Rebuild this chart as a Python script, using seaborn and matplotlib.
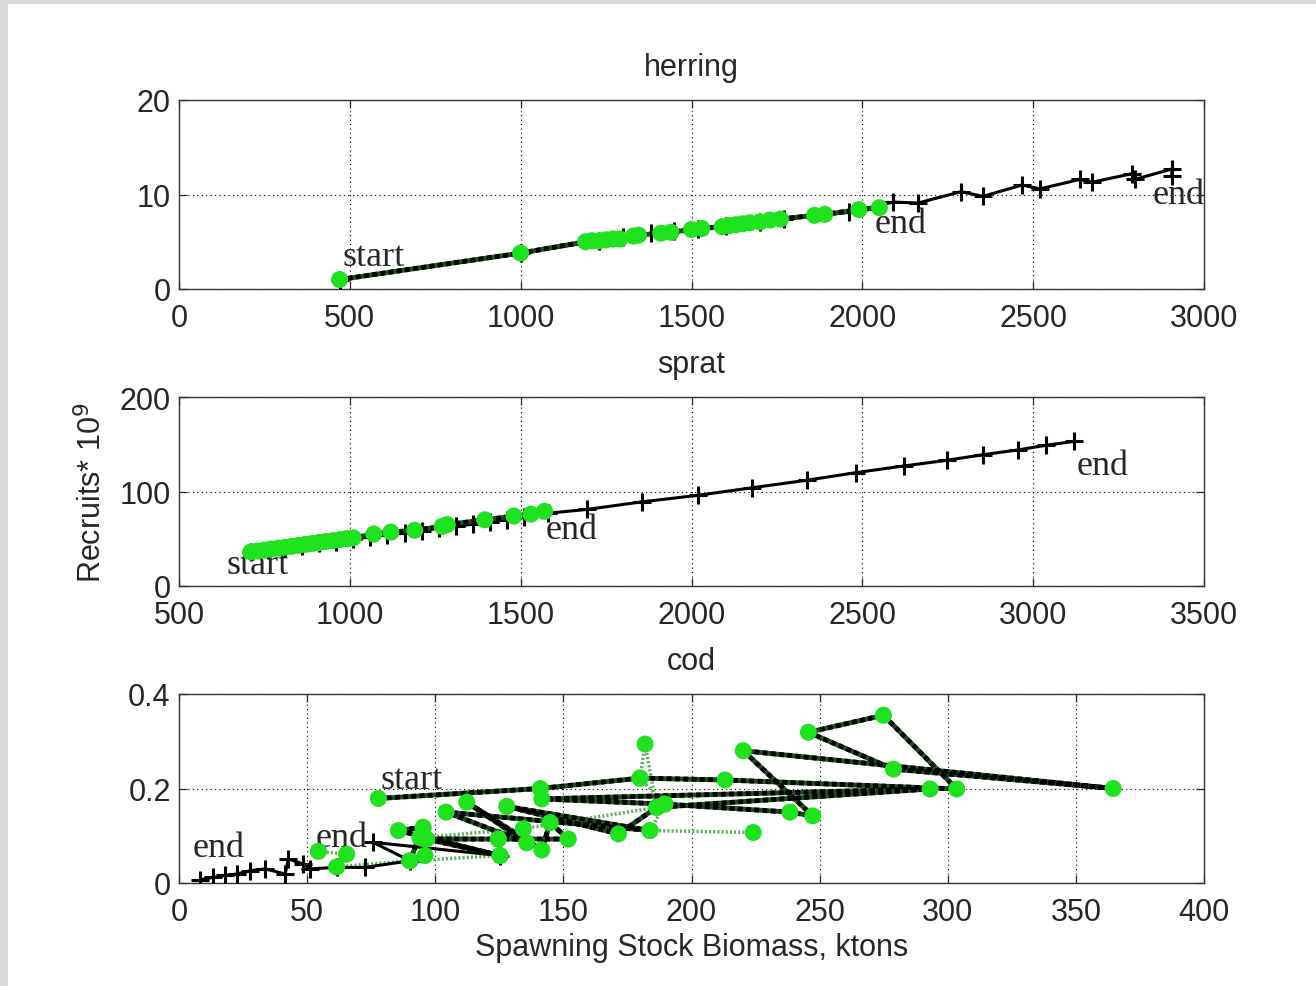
import numpy as np
import pandas as pd
import matplotlib
matplotlib.use("Agg")
import matplotlib.pyplot as plt
from matplotlib.patches import Rectangle
import seaborn as sns

# ---- herring ----
herring_obs_ssb = [470, 1000, 1190, 1210, 1230, 1250, 1270, 1290, 1330, 1345, 1410, 1440,
                   1500, 1530, 1590, 1610, 1630, 1650, 1670, 1700, 1730, 1760, 1860, 1890,
                   1990, 2050]
herring_obs_rec = [1.0, 3.8, 5.0, 5.1, 5.1, 5.2, 5.3, 5.3, 5.6, 5.7, 5.9, 6.0,
                   6.3, 6.4, 6.6, 6.7, 6.8, 6.9, 7.0, 7.1, 7.3, 7.4, 7.8, 7.9,
                   8.4, 8.6]
herring_mod_ssb = [470, 1000, 1230, 1300, 1380, 1450, 1520, 1600, 1700, 1770, 1960, 2090,
                   2163, 2289, 2353, 2467, 2520, 2637, 2672, 2789, 2798, 2906, 2906]
herring_mod_rec = [1.0, 3.8, 5.1, 5.5, 5.9, 6.1, 6.4, 6.7, 7.1, 7.4, 8.1, 9.2,
                   9.1, 10.3, 9.8, 11.0, 10.6, 11.6, 11.3, 12.2, 11.6, 12.7, 12.0]

# ---- sprat ----
sprat_obs_ssb = [710, 730, 750, 770, 790, 810, 830, 850, 870, 890, 910, 930, 950, 970,
                 990, 1010, 1070, 1120, 1190, 1270, 1285, 1395, 1480, 1530, 1570]
sprat_obs_rec = [36, 37, 38, 39, 40, 41, 42, 43, 44, 45, 46, 47, 48, 49,
                 50, 51, 55, 57, 59, 63, 65, 70, 74, 76, 79]
sprat_mod_ssb = [710, 760, 810, 860, 910, 960, 1010, 1060, 1110, 1160, 1210, 1260, 1310,
                 1360, 1410, 1460, 1510, 1580, 1693, 1854, 2019, 2178, 2339, 2482, 2621,
                 2747, 2854, 2956, 3039, 3120]
sprat_mod_rec = [36, 38, 40, 42.5, 45, 47, 49.5, 52, 54, 56, 58.5, 61, 63,
                 65.5, 68, 70, 72.5, 77, 81, 89, 96, 104, 112, 120, 127,
                 133, 139, 144, 149, 153]

# ---- cod ----
cod_obs_ssb = [77.8, 141.0, 179.9, 213.1, 303.5, 274.9, 245.6, 278.8, 364.6, 220.2, 247.3,
               238.4, 189.6, 141.6, 293.1, 186.4, 171.5, 127.9, 183.8, 104.2, 135.7, 112.3,
               141.6, 144.8, 151.9, 124.6, 96.7, 125.3, 85.6, 95.3, 90.1, 96.0]
cod_obs_rec = [0.179, 0.200, 0.222, 0.218, 0.199, 0.355, 0.319, 0.241, 0.200, 0.280, 0.142,
               0.150, 0.167, 0.178, 0.199, 0.160, 0.104, 0.162, 0.111, 0.150, 0.085, 0.171,
               0.070, 0.128, 0.093, 0.093, 0.093, 0.058, 0.111, 0.118, 0.047, 0.058]
cod_obs2_ssb = [54.4, 65.4, 61.5, 90.1, 125.3, 96.0, 124.6, 94.0, 134.4, 186.4, 181.9,
                179.9, 189.6, 183.8, 224.1]
cod_obs2_rec = [0.067, 0.061, 0.034, 0.047, 0.058, 0.093, 0.093, 0.096, 0.115, 0.160, 0.294,
                0.222, 0.167, 0.111, 0.107]
cod_mod_ssb = [125.3, 75.8, 90.1, 72.6, 61.5, 51.1, 48.5, 42.7, 41.4, 33.6, 27.7, 22.5,
               18.0, 13.4, 8.2]
cod_mod_rec = [0.058, 0.086, 0.047, 0.033, 0.033, 0.030, 0.040, 0.051, 0.019, 0.030, 0.026,
               0.019, 0.016, 0.012, 0.007]

GREEN = "#1fe21f"
SANS = ["Liberation Sans", "DejaVu Sans"]
SERIF = ["Liberation Serif", "DejaVu Serif"]

sns.set_style("ticks")
plt.rcParams["font.family"] = SANS
plt.rcParams["font.size"] = 22


def draw_panel(ax, obs_x, obs_y, mod_x, mod_y, extra=None):
    # model trajectory: black line with + markers
    sns.lineplot(x=mod_x, y=mod_y, sort=False, estimator=None, ax=ax, color="black",
                 lw=2.2, marker="+", markersize=13, markeredgewidth=2.2,
                 markeredgecolor="black", zorder=3)
    if extra is not None:
        sns.lineplot(x=extra[0], y=extra[1], sort=False, estimator=None, ax=ax,
                     color="#5fae5f", lw=2.5, linestyle=(0, (0.6, 0.6)), zorder=2)
        sns.scatterplot(x=extra[0], y=extra[1], ax=ax, color=GREEN, s=150,
                        edgecolor="none", zorder=5)
    # observed trajectory: thick dotted line with green dots
    sns.lineplot(x=obs_x, y=obs_y, sort=False, estimator=None, ax=ax,
                 color="#1d4d1d", lw=3.5, zorder=3.5)
    sns.lineplot(x=obs_x, y=obs_y, sort=False, estimator=None, ax=ax,
                 color="black", lw=3.5, linestyle=(0, (1, 0.7)), zorder=4)
    sns.scatterplot(x=obs_x, y=obs_y, ax=ax, color=GREEN, s=150, edgecolor="none", zorder=5)


def style_axes(ax, xlim, ylim, xticks, yticks, yticklabels=None):
    ax.set_xlim(xlim)
    ax.set_ylim(ylim)
    ax.set_xticks(xticks)
    ax.set_yticks(yticks)
    if yticklabels is not None:
        ax.set_yticklabels(yticklabels)
    ax.grid(True, color="black", linestyle=(0, (1, 3)), lw=0.8)
    ax.tick_params(direction="in", top=True, right=True, length=6, width=0.9,
                   labelsize=22)
    ax.tick_params(axis="x", pad=10)
    ax.tick_params(axis="y", pad=6)
    for s in ax.spines.values():
        s.set_linewidth(1.0)
        s.set_color("#333333")
        s.set_visible(True)


fig = plt.figure(figsize=(13.16, 9.87), dpi=100)
fig.patch.set_facecolor("#d9d9d9")
fig.add_artist(Rectangle((8 / 1316, 0), 1, 1 - 5 / 987, transform=fig.transFigure,
                         facecolor="white", edgecolor="none", zorder=-10))

L, W, H = 179 / 1316, 1025 / 1316, 189 / 987
ax1 = fig.add_axes([L, 1 - 290 / 987, W, H])
ax2 = fig.add_axes([L, 1 - 587 / 987, W, H])
ax3 = fig.add_axes([L, 1 - 884 / 987, W, H])

# herring
draw_panel(ax1, herring_obs_ssb, herring_obs_rec, herring_mod_ssb, herring_mod_rec)
style_axes(ax1, (0, 3000), (0, 20), range(0, 3001, 500), [0, 10, 20])
ax1.set_title("herring", fontsize=22, pad=18)
ax1.text(480, 3.4, "start", family=SERIF, fontsize=26, va="center", ha="left")
ax1.text(2037, 6.9, "end", family=SERIF, fontsize=26, va="center", ha="left")
ax1.text(2851, 10.0, "end", family=SERIF, fontsize=26, va="center", ha="left")

# sprat
draw_panel(ax2, sprat_obs_ssb, sprat_obs_rec, sprat_mod_ssb, sprat_mod_rec)
style_axes(ax2, (500, 3500), (0, 200), range(500, 3501, 500), [0, 100, 200])
ax2.set_title("sprat", fontsize=22, pad=18)
ax2.set_ylabel("Recruits* 10$^9$", fontsize=22, labelpad=8)
ax2.text(640, 23, "start", family=SERIF, fontsize=26, va="center", ha="left")
ax2.text(1574, 60, "end", family=SERIF, fontsize=26, va="center", ha="left")
ax2.text(3128, 128, "end", family=SERIF, fontsize=26, va="center", ha="left")

# cod
draw_panel(ax3, cod_obs_ssb, cod_obs_rec, cod_mod_ssb, cod_mod_rec,
           extra=(cod_obs2_ssb, cod_obs2_rec))
style_axes(ax3, (0, 400), (0, 0.4), range(0, 401, 50), [0, 0.2, 0.4],
           ["0", "0.2", "0.4"])
ax3.set_title("cod", fontsize=22, pad=18)
ax3.set_xlabel("Spawning Stock Biomass, ktons", fontsize=22, labelpad=4)
ax3.text(78.8, 0.218, "start", family=SERIF, fontsize=26, va="center", ha="left")
ax3.text(53.5, 0.097, "end", family=SERIF, fontsize=26, va="center", ha="left")
ax3.text(5.5, 0.076, "end", family=SERIF, fontsize=26, va="center", ha="left")

fig.savefig("out.png", dpi=100, facecolor=fig.get_facecolor())
